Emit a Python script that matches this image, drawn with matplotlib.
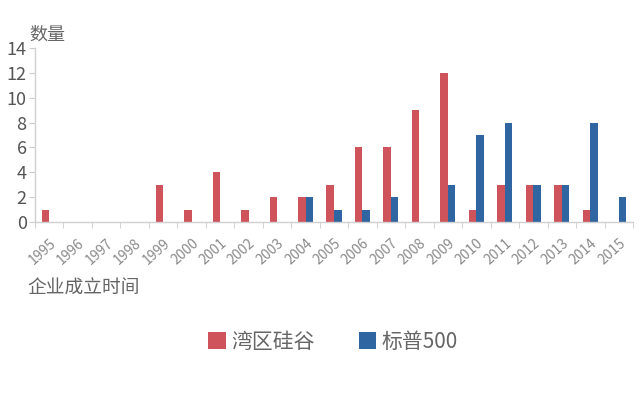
import matplotlib
matplotlib.use("Agg")
import matplotlib.pyplot as plt
import matplotlib.transforms as mtransforms
import numpy as np

plt.rcParams['font.family'] = ['Noto Sans CJK SC', 'DejaVu Sans']

years = [str(y) for y in range(1995, 2016)]
bay_area = [1, 0, 0, 0, 3, 1, 4, 1, 2, 2, 3, 6, 6, 9, 12, 1, 3, 3, 3, 1, 0]
sp500 = [0, 0, 0, 0, 0, 0, 0, 0, 0, 2, 1, 1, 2, 0, 3, 7, 8, 3, 3, 8, 2]
series_names = ['湾区硅谷', '标普500']
y_ticks = [0, 2, 4, 6, 8, 10, 12, 14]

red = '#cf535b'
blue = '#2f65a1'

fig = plt.figure(figsize=(6.4, 3.93), dpi=100)
ax = fig.add_axes([35/640, 1 - 222/393, 598/640, 174/393])

x = np.arange(len(years))
w = 0.265
ax.bar(x - w/2, bay_area, width=w, color=red, label=series_names[0])
ax.bar(x + w/2, sp500, width=w, color=blue, label=series_names[1])

ax.set_xlim(-0.5, len(years) - 0.5)
ax.set_ylim(0, 14)
ax.set_yticks(y_ticks)
ax.set_yticklabels([str(t) for t in y_ticks], fontsize=13, color='#555555')
ax.set_xticks(x)
ax.set_xticklabels(years, rotation=42, ha='right', rotation_mode='anchor',
                   fontsize=10, color='#8a8a8a')
offset = mtransforms.ScaledTranslation(4/100, 0, fig.dpi_scale_trans)
for lbl in ax.get_xticklabels():
    lbl.set_transform(lbl.get_transform() + offset)
ax.set_xticks(np.arange(-0.5, len(years) + 0.5, 1), minor=True)
ax.tick_params(axis='x', which='major', length=0, pad=10)
ax.tick_params(axis='x', which='minor', length=4, color='#cccccc', direction='out')
ax.tick_params(axis='y', length=4, color='#cccccc', pad=2)

for s in ['top', 'right']:
    ax.spines[s].set_visible(False)
for s in ['left', 'bottom']:
    ax.spines[s].set_color('#d0d0d0')
    ax.spines[s].set_linewidth(1)

fig.text(29/640, 1 - 35/393, '数量', fontsize=13, color='#666666', va='center', ha='left')
fig.text(27/640, 1 - 288/393, '企业成立时间', fontsize=13.5, color='#666666', va='center', ha='left')

handles, labels = ax.get_legend_handles_labels()
fig.legend(handles, labels, loc='center', bbox_to_anchor=(333/640, 1 - 342/393),
           ncol=2, frameon=False, fontsize=15, handlelength=0.85, handleheight=0.85,
           handletextpad=0.25, columnspacing=2.1, labelcolor='#666666')

fig.savefig('out.png', dpi=100, facecolor='white')
